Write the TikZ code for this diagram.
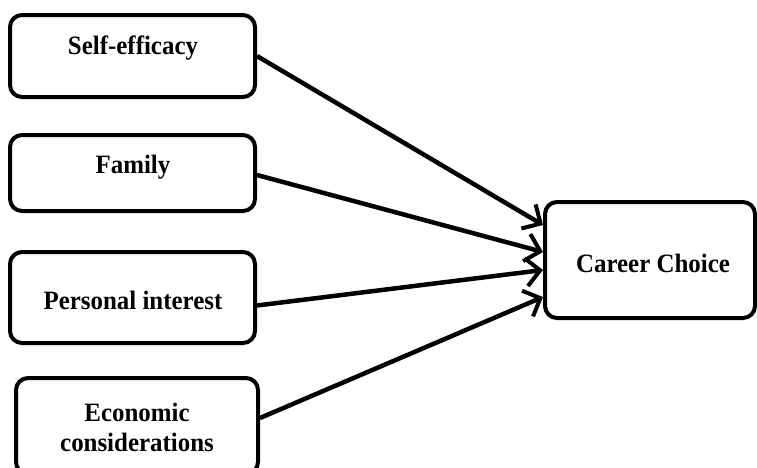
\documentclass[tikz,border=0pt]{standalone}
\usepackage{fontspec}
\setmainfont{Liberation Serif}[FakeStretch=0.94]
\usetikzlibrary{arrows.meta,calc}
\begin{document}
\begin{tikzpicture}[x=1pt,y=-1pt,
  box/.style={draw=black,line width=4pt,rounded corners=12pt,fill=white},
  lbl/.style={font=\fontsize{26.5}{27}\selectfont\bfseries,align=center,inner sep=0pt},
  conn/.style={line width=4.5pt,-{Straight Barb[length=14pt,width=28pt,line width=4pt]}}]
\useasboundingbox (0,0) rectangle (757,467);
% left boxes
\node[box,minimum width=245pt,minimum height=82pt] (b1) at (132.5,56) {};
\node[lbl] (t1) at (133,48) {Self-efficacy};
\node[box,minimum width=245pt,minimum height=76pt] (b2) at (132.5,173) {};
\node[lbl] (t2) at (133,167) {Family};
\node[box,minimum width=245pt,minimum height=91pt] (b3) at (132.5,297.5) {};
\node[lbl] (t3) at (133,300) {Personal interest};
\node[box,minimum width=242pt,minimum height=96pt] (b4) at (137,426) {};
\node[lbl] (t4) at (137,427) {Economic\\[3pt]considerations};
% target
\node[box,minimum width=210pt,minimum height=116pt] (cc) at (650,260) {};
\node[lbl] (tc) at (653,263) {Career Choice};
% connectors
\draw[conn] (b1.east) -- ([yshift=35pt]cc.west);
\draw[conn] ([yshift=-2pt]b2.east) -- ([yshift=8pt]cc.west);
\draw[conn] ([yshift=-8pt]b3.east) -- ([yshift=-10pt]cc.west);
\draw[conn] ([yshift=8pt]b4.east) -- ([yshift=-37pt]cc.west);
\end{tikzpicture}
\end{document}
